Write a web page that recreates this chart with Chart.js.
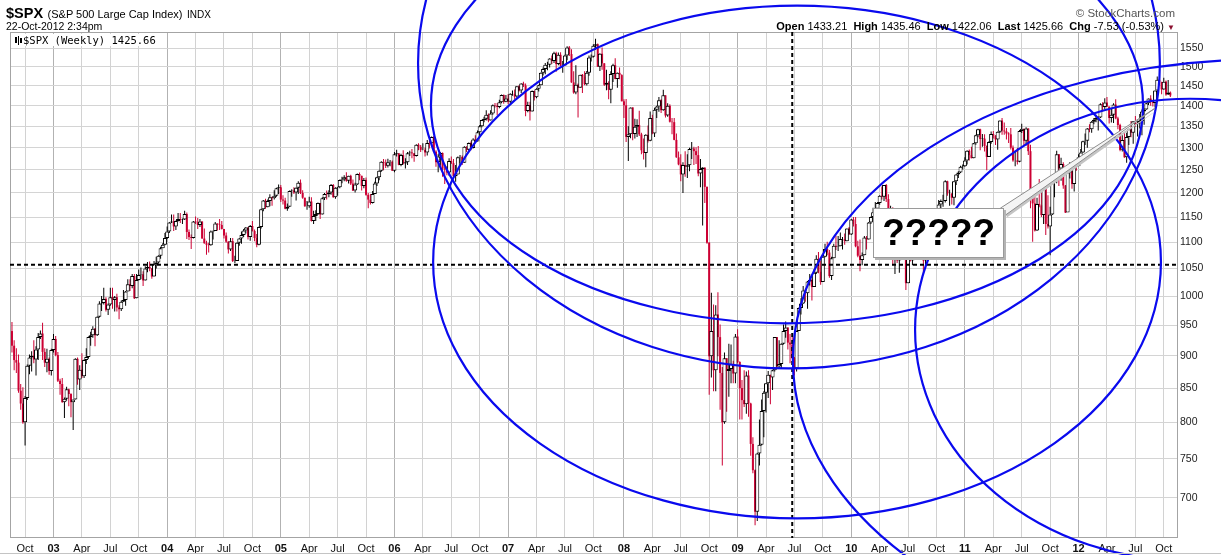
<!DOCTYPE html>
<html>
<head>
<meta charset="utf-8">
<title>$SPX semanal con elipses</title>
<script src="https://cdn.jsdelivr.net/npm/chart.js@4.4.1/dist/chart.umd.min.js"></script>
<style>
body { margin: 0; padding: 0; background: #fff; overflow: hidden; }
#wrap { position: relative; width: 1221px; height: 555px; background: #fff; font-family: "Liberation Sans", Arial, sans-serif; color: #000; }
#c { position: absolute; left: 0; top: 0; }
.txt { position: absolute; white-space: nowrap; }
#legend { left: 11px; top: 34px; width: 154px; height: 12px; background: #fff; font-family: "DejaVu Sans Mono", monospace; font-size: 10.5px; line-height: 12px; }
#legend svg { vertical-align: -1px; margin: 0 1px 0 4px; }
#callout { position: absolute; box-sizing: border-box; background: #fff; border: 1px solid #9a9a9a; box-shadow: 2px 2px 0 #b4b4b4; font-weight: bold; font-size: 37px; text-align: center; }
#bottomline { position: absolute; left: 0; top: 553px; width: 1221px; height: 1px; background: #c4c4c4; }
</style>
</head>
<body>
<div id="wrap">
    <canvas id="c" width="1221" height="555"></canvas>
    <div class="txt" style="left:6px;top:5px;line-height:16px"><b style="font-size:14.5px">$SPX</b> <span style="font-size:11px">(S&amp;P 500 Large Cap Index)</span> <span style="font-size:10px">INDX</span></div>
    <div class="txt" style="left:6px;top:20px;font-size:10.5px;line-height:12px">22-Oct-2012 2:34pm</div>
    <div class="txt" id="legend"><svg width="7" height="9"><rect x="0" y="1" width="2" height="6" fill="#000"/><rect x="3" y="0" width="1" height="9" fill="#000"/><rect x="5" y="2" width="2" height="5" fill="#000"/></svg>$SPX (Weekly) 1425.66</div>
    <div class="txt" style="right:46px;top:7px;font-size:11.5px;line-height:12px;color:#555">© StockCharts.com</div>
    <div class="txt" style="right:46px;top:20px;font-size:11px;line-height:12px"><b>Open</b> 1433.21&nbsp;&nbsp;<b>High</b> 1435.46&nbsp;&nbsp;<b>Low</b> 1422.06&nbsp;&nbsp;<b>Last</b> 1425.66&nbsp;&nbsp;<b>Chg</b> -7.53 (-0.53%) <span style="color:#8b1030;font-size:8px">▼</span></div>
    <div id="callout"></div>
    <div id="bottomline"></div>
</div>
<script>
// Barras semanales: la barra 0 es la semana que empieza el lunes 26-ago-2002, la ultima la del 22-oct-2012
const prevClose0 = 940; // cierre de la semana anterior a la primera barra

const closes = [
    916,893,889,846,827,800,835,884,897,900,894,910,930,936,906,889,895,876,909,
    // 2003
    927,901,861,856,829,834,848,841,829,833,895,863,878,868,893,898,930,933,944,933,964,987,988,995,976,985,998,993,998,980,977,990,993,1008,1021,1018,1036,996,1029,1038,1039,1028,1050,1053,1050,1035,1058,1061,1074,1088,1095,1108,
    // 2004
    1121,1139,1141,1131,1142,1146,1144,1145,1156,1120,1110,1108,1141,1139,1134,1141,1107,1098,1095,1094,1121,1122,1137,1135,1134,1126,1113,1101,1086,1102,1064,1064,1099,1107,1114,1123,1129,1110,1132,1122,1108,1095,1130,1166,1184,1170,1183,1191,1189,1194,1210,1212,
    // 2005
    1186,1184,1167,1171,1204,1205,1201,1211,1222,1200,1190,1172,1172,1182,1142,1152,1156,1179,1155,1189,1198,1197,1201,1217,1191,1211,1212,1228,1229,1234,1226,1237,1220,1205,1218,1241,1237,1215,1228,1196,1186,1179,1198,1220,1234,1248,1268,1265,1259,1267,1268,1248,
    // 2006
    1285,1287,1261,1283,1264,1267,1287,1289,1287,1281,1307,1302,1295,1295,1289,1311,1310,1325,1291,1267,1280,1288,1253,1251,1244,1270,1265,1236,1240,1278,1279,1266,1302,1295,1311,1299,1319,1314,1336,1350,1365,1368,1378,1364,1381,1401,1400,1397,1409,1427,1410,1418,
    // 2007
    1410,1430,1430,1423,1449,1438,1456,1451,1387,1402,1386,1437,1421,1443,1452,1484,1494,1505,1505,1522,1515,1536,1507,1532,1503,1503,1530,1552,1534,1459,1433,1453,1445,1479,1474,1454,1484,1525,1527,1557,1561,1500,1535,1509,1453,1458,1440,1481,1504,1468,1484,1478,
    // 2008
    1411,1401,1325,1331,1396,1332,1349,1353,1331,1294,1288,1330,1316,1370,1333,1390,1398,1414,1389,1426,1376,1400,1361,1360,1318,1278,1262,1240,1261,1257,1260,1297,1298,1292,1283,1242,1252,1255,1213,1099,899,940,877,968,930,873,800,896,876,879,887,872,931,
    // 2009
    890,850,832,826,869,827,770,735,683,757,769,816,843,857,870,866,877,930,883,887,919,940,946,921,918,896,880,940,979,987,1010,1005,1026,1029,1016,1042,1068,1044,1025,1072,1087,1080,1036,1069,1093,1091,1092,1106,1106,1102,1127,1115,
    // 2010
    1145,1136,1092,1074,1066,1075,1109,1105,1139,1150,1160,1167,1179,1194,1192,1217,1187,1111,1136,1088,1089,1065,1092,1117,1076,1023,1078,1065,1103,1102,1121,1079,1072,1065,1105,1110,1125,1149,1146,1166,1176,1183,1183,1225,1199,1199,1190,1225,1240,1244,1257,1258,
    // 2011
    1271,1293,1283,1276,1310,1329,1343,1320,1321,1304,1279,1313,1332,1328,1319,1337,1364,1340,1338,1333,1331,1300,1271,1271,1268,1339,1344,1316,1345,1292,1199,1178,1123,1177,1174,1154,1216,1136,1131,1155,1224,1238,1285,1253,1263,1216,1159,1244,1255,1219,1265,1258,
    // 2012
    1278,1289,1315,1316,1345,1343,1361,1366,1370,1371,1404,1397,1408,1398,1370,1378,1403,1369,1353,1295,1318,1278,1325,1343,1335,1362,1355,1357,1363,1386,1391,1406,1418,1411,1407,1438,1466,1460,1441,1461,1428,1433,1425.66
];

const highs = [
    955,925,912,902,856,851,838,886,902,907,925,915,937,941,954,912,911,897,911,
    935,932,906,864,865,836,852,849,842,833,896,897,885,904,894,912,931,939,948,945,965,991,1000,1015,998,987,1015,1015,1000,1004,984,992,1011,1009,1030,1030,1040,1040,1040,1048,1052,1045,1054,1062,1063,1051,1064,1072,1075,1091,1098,1118,
    1131,1140,1155,1155,1143,1158,1158,1147,1163,1159,1125,1115,1142,1151,1148,1146,1141,1127,1103,1099,1123,1123,1140,1137,1146,1142,1126,1119,1102,1108,1108,1074,1100,1108,1121,1126,1130,1129,1134,1142,1125,1116,1131,1167,1185,1188,1186,1197,1192,1206,1211,1218,
    1217,1195,1190,1178,1205,1208,1212,1212,1225,1229,1206,1190,1183,1192,1191,1163,1164,1180,1179,1191,1200,1205,1206,1219,1219,1212,1213,1229,1235,1238,1245,1237,1239,1229,1222,1242,1244,1237,1232,1233,1200,1198,1204,1224,1235,1249,1269,1274,1273,1275,1272,1271,
    1290,1295,1287,1286,1294,1276,1290,1293,1297,1288,1308,1310,1306,1310,1300,1318,1316,1326,1327,1294,1285,1290,1289,1257,1258,1276,1280,1274,1261,1280,1283,1282,1303,1303,1312,1314,1322,1329,1340,1353,1366,1373,1389,1381,1389,1403,1407,1407,1415,1428,1428,1427,
    1429,1431,1438,1441,1449,1452,1457,1461,1456,1410,1410,1438,1438,1444,1453,1485,1498,1510,1513,1523,1530,1540,1540,1538,1539,1515,1532,1555,1556,1547,1488,1504,1456,1479,1481,1488,1489,1530,1533,1561,1576,1563,1536,1552,1510,1492,1462,1488,1508,1523,1485,1498,
    1480,1416,1417,1350,1396,1396,1368,1367,1388,1335,1321,1331,1352,1386,1378,1395,1400,1422,1416,1440,1426,1406,1404,1370,1370,1333,1291,1285,1267,1292,1285,1300,1313,1302,1301,1304,1274,1256,1255,1214,1100,1006,985,984,1007,951,882,905,896,919,918,892,935,
    943,891,862,877,875,877,828,779,736,758,804,833,845,857,876,870,878,930,930,925,920,951,956,946,935,931,898,941,980,996,1018,1013,1027,1040,1031,1049,1075,1081,1065,1076,1097,1101,1085,1072,1097,1113,1112,1119,1110,1117,1127,1130,
    1146,1150,1150,1103,1105,1080,1112,1112,1140,1151,1169,1181,1181,1195,1214,1217,1219,1197,1173,1170,1105,1105,1093,1120,1131,1082,1078,1100,1104,1120,1130,1129,1100,1081,1106,1114,1131,1149,1162,1168,1185,1186,1196,1227,1226,1207,1199,1225,1241,1247,1259,1262,
    1278,1294,1296,1302,1311,1330,1344,1344,1332,1331,1305,1315,1338,1339,1329,1338,1364,1370,1359,1346,1336,1346,1305,1293,1299,1341,1356,1344,1348,1345,1307,1199,1208,1190,1230,1204,1220,1220,1195,1171,1225,1239,1293,1285,1277,1267,1217,1260,1267,1255,1268,1269,
    1285,1297,1316,1333,1346,1355,1363,1370,1378,1374,1406,1409,1419,1422,1398,1392,1406,1416,1373,1356,1329,1334,1335,1344,1363,1363,1375,1366,1380,1391,1394,1407,1418,1426,1414,1438,1474,1467,1461,1471,1464,1465,1435.46
];

const lows = [
    905,877,873,843,818,798,768,832,871,875,888,869,893,927,893,882,874,870,869,
    905,899,859,840,828,806,831,823,807,789,833,855,847,865,865,887,895,916,929,915,932,963,974,985,973,967,983,978,973,973,960,974,990,983,1008,1009,1014,995,996,1028,1030,1018,1028,1043,1045,1031,1035,1050,1059,1068,1088,1094,
    1106,1118,1138,1122,1124,1141,1138,1136,1144,1106,1104,1087,1107,1136,1126,1130,1107,1097,1076,1080,1093,1105,1122,1123,1124,1125,1107,1099,1078,1083,1062,1060,1064,1093,1097,1110,1117,1105,1103,1121,1102,1090,1094,1127,1162,1167,1170,1172,1173,1186,1192,1198,
    1181,1176,1166,1163,1171,1192,1198,1184,1198,1198,1188,1171,1165,1169,1141,1136,1142,1154,1146,1155,1185,1186,1191,1196,1190,1188,1194,1210,1221,1225,1224,1220,1217,1204,1201,1217,1227,1205,1210,1194,1168,1176,1178,1198,1215,1227,1246,1249,1254,1255,1258,1248,
    1245,1280,1260,1258,1262,1253,1261,1281,1276,1268,1280,1294,1290,1294,1280,1282,1298,1304,1290,1257,1245,1259,1235,1219,1238,1237,1263,1235,1224,1240,1265,1261,1266,1290,1293,1294,1298,1310,1314,1326,1348,1360,1364,1360,1364,1378,1396,1377,1394,1406,1405,1409,
    1404,1405,1425,1416,1420,1436,1432,1447,1374,1384,1364,1386,1413,1419,1436,1452,1477,1480,1491,1498,1507,1510,1487,1504,1502,1484,1503,1517,1529,1458,1430,1429,1371,1445,1432,1452,1451,1476,1514,1525,1546,1500,1489,1492,1450,1439,1416,1406,1460,1467,1445,1467,
    1411,1370,1313,1270,1322,1317,1321,1325,1327,1285,1273,1256,1312,1315,1331,1325,1370,1385,1382,1388,1371,1373,1359,1331,1317,1277,1260,1225,1200,1235,1232,1247,1274,1261,1263,1236,1212,1133,1179,1097,840,866,845,845,899,818,741,798,815,837,857,857,857,
    888,804,804,822,812,808,754,731,667,672,741,768,779,814,835,826,847,875,879,879,880,918,929,910,888,895,869,875,940,968,986,990,978,1019,992,1016,1040,1041,1020,1025,1071,1075,1033,1029,1069,1085,1083,1092,1086,1095,1102,1115,
    1114,1131,1090,1071,1045,1056,1075,1086,1105,1136,1141,1157,1165,1175,1186,1183,1181,1066,1110,1056,1040,1060,1042,1087,1071,1011,1023,1063,1056,1088,1101,1076,1069,1040,1050,1092,1107,1123,1135,1131,1158,1159,1171,1180,1194,1173,1176,1174,1217,1232,1243,1251,
    1257,1262,1271,1276,1276,1307,1324,1294,1302,1291,1249,1279,1309,1321,1306,1295,1334,1330,1330,1319,1311,1296,1268,1258,1262,1267,1334,1306,1305,1283,1168,1101,1121,1122,1170,1150,1136,1114,1127,1075,1154,1191,1221,1215,1226,1209,1158,1176,1231,1209,1203,1248,
    1258,1275,1288,1306,1300,1336,1335,1355,1360,1340,1370,1386,1391,1397,1357,1359,1358,1367,1343,1292,1291,1277,1266,1306,1324,1309,1349,1326,1345,1329,1354,1390,1402,1400,1398,1396,1428,1455,1429,1440,1425,1427,1422.06
];

// eje de precios (logaritmico) y marcas trimestrales del eje de tiempo
const yTicks = [700, 750, 800, 850, 900, 950, 1000, 1050, 1100, 1150, 1200, 1250, 1300, 1350, 1400, 1450, 1500, 1550];
const qtrTickIdx = [6, 19, 32, 45, 58, 71, 84, 97, 110, 123, 136, 149, 162, 175, 188, 201, 214, 227, 240, 253, 266,
    280, 293, 306, 319, 332, 345, 358, 371, 384, 397, 410, 423, 436, 449, 462, 475, 488, 501, 514, 527];
const qtrTickLabels = ['Oct', '03', 'Apr', 'Jul', 'Oct', '04', 'Apr', 'Jul', 'Oct', '05', 'Apr', 'Jul', 'Oct', '06', 'Apr', 'Jul',
    'Oct', '07', 'Apr', 'Jul', 'Oct', '08', 'Apr', 'Jul', 'Oct', '09', 'Apr', 'Jul', 'Oct', '10', 'Apr', 'Jul', 'Oct', '11',
    'Apr', 'Jul', 'Oct', '12', 'Apr', 'Jul', 'Oct'];

// anotaciones dibujadas a mano (en semanas y precio)
const crossWeek = 357;
const crossPrice = 1057;
const ellipses = [
    { week: 359.2, price: 1062, halfWeeks: 166.5, lowPrice: 675 },
    { week: 355.5, price: 1509, halfWeeks: 169.7, lowPrice: 880 },
    { week: 354.6, price: 1401, halfWeeks: 162.9, lowPrice: 953 },
    { week: 571.0, price: 893, halfWeeks: 213.7, lowPrice: 525 },
    { week: 539.0, price: 942, halfWeeks: 125.8, lowPrice: 626 }
];
const callout = { fromWeek: 394, toWeek: 454, top: 1168, bottom: 1069, tipWeek: 523, tipPrice: 1394, text: '?????' };

const UP = '#000000';
const DOWN = '#cc0033';

// apertura semanal = cierre de la semana anterior
const opens = closes.map((c, i) => i === 0 ? prevClose0 : closes[i - 1]);
const isUp = closes.map((c, i) => c >= opens[i]);
const colors = isUp.map(u => u ? UP : DOWN);

const wicks = closes.map((c, i) => ({ x: i, y: [lows[i], highs[i]] }));
const upBodies = [];
const downBodies = [];
closes.forEach((c, i) => (isUp[i] ? upBodies : downBodies).push({ x: i, y: [opens[i], c] }));

Chart.defaults.font.family = '"Liberation Sans", Arial, sans-serif';

const overlay = {
    id: 'overlay',
    afterDraw(chart) {
        const ctx = chart.ctx;
        const a = chart.chartArea;
        const x = chart.scales.x;
        const y = chart.scales.y;
        ctx.save();

        // marco del grafico
        ctx.strokeStyle = '#a4a4a4';
        ctx.lineWidth = 1;
        ctx.strokeRect(a.left + 0.5, a.top + 0.5, a.right - a.left - 1, a.bottom - a.top - 1);

        // cruz punteada
        const cx = x.getPixelForValue(crossWeek);
        const cy = y.getPixelForValue(crossPrice);
        ctx.setLineDash([4, 3]);
        ctx.strokeStyle = '#000';
        ctx.lineWidth = 2;
        ctx.beginPath();
        ctx.moveTo(cx, a.top);
        ctx.lineTo(cx, a.bottom);
        ctx.moveTo(a.left, cy);
        ctx.lineTo(a.right, cy);
        ctx.stroke();
        ctx.setLineDash([]);

        // elipses
        ctx.strokeStyle = '#0a0aee';
        ctx.lineWidth = 2.2;
        ellipses.forEach(e => {
            const ex = x.getPixelForValue(e.week);
            const ey = y.getPixelForValue(e.price);
            const rx = x.getPixelForValue(e.week + e.halfWeeks) - ex;
            const ry = y.getPixelForValue(e.lowPrice) - ey;
            ctx.beginPath();
            ctx.ellipse(ex, ey, rx, ry, 0, 0, Math.PI * 2);
            ctx.stroke();
        });

        // flecha del globo
        const bx = x.getPixelForValue(callout.toWeek);
        const by = y.getPixelForValue(callout.top);
        const tx = x.getPixelForValue(callout.tipWeek);
        const ty = y.getPixelForValue(callout.tipPrice);
        ctx.fillStyle = '#c4c4c4';
        ctx.beginPath();
        ctx.moveTo(bx - 2, by + 2);
        ctx.lineTo(tx + 2, ty + 2);
        ctx.lineTo(bx + 3, by + 9);
        ctx.closePath();
        ctx.fill();
        ctx.fillStyle = '#f4f4f4';
        ctx.strokeStyle = '#8c8c8c';
        ctx.lineWidth = 1;
        ctx.beginPath();
        ctx.moveTo(bx - 4, by);
        ctx.lineTo(tx, ty);
        ctx.lineTo(bx + 1, by + 7);
        ctx.closePath();
        ctx.fill();
        ctx.stroke();

        ctx.restore();
    }
};

const chart = new Chart(document.getElementById('c'), {
    type: 'bar',
    data: {
        datasets: [
            {
                label: 'cuerpo alcista',
                data: upBodies,
                backgroundColor: '#ffffff',
                borderColor: UP,
                borderWidth: 1,
                borderSkipped: false,
                barThickness: 4,
                inflateAmount: 0,
                grouped: false,
                order: 0
            },
            {
                label: 'cuerpo bajista',
                data: downBodies,
                backgroundColor: DOWN,
                borderWidth: 0,
                barThickness: 2,
                inflateAmount: 0,
                grouped: false,
                order: 0
            },
            {
                label: 'mecha',
                data: wicks,
                backgroundColor: colors,
                borderWidth: 0,
                barThickness: 1,
                inflateAmount: 0,
                grouped: false,
                order: 1
            }
        ]
    },
    options: {
        responsive: false,
        animation: false,
        devicePixelRatio: 1,
        layout: { padding: { top: 32, left: 10, right: 0, bottom: 0 } },
        plugins: { legend: { display: false }, tooltip: { enabled: false } },
        scales: {
            x: {
                type: 'linear',
                min: -0.9,
                max: 533.5,
                offset: false,
                afterBuildTicks: s => {
                    s.ticks = qtrTickIdx.map((v, i) => ({ value: v, major: !isNaN(Number(qtrTickLabels[i])) }));
                },
                afterFit: s => { s.height = 17; },
                grid: {
                    offset: false,
                    drawTicks: false,
                    color: c => (c.tick && c.tick.major) ? '#b2b2b2' : '#d2d2d2'
                },
                border: { display: false },
                ticks: {
                    autoSkip: false,
                    maxRotation: 0,
                    padding: 4,
                    color: '#111',
                    font: c => ({ size: 11, weight: (c.tick && c.tick.major) ? 'bold' : 'normal' }),
                    callback: (v, i) => qtrTickLabels[i]
                }
            },
            y: {
                type: 'logarithmic',
                position: 'right',
                min: 652,
                max: 1595,
                afterBuildTicks: s => { s.ticks = yTicks.map(v => ({ value: v })); },
                afterFit: s => { s.width = 43; },
                grid: { drawTicks: false, color: '#d4d4d4' },
                border: { display: false },
                ticks: {
                    padding: 2,
                    color: '#222',
                    font: { size: 10.5 },
                    callback: v => String(v)
                }
            }
        }
    },
    plugins: [overlay]
});

// globo con texto, colocado con las escalas del grafico
const calloutBox = document.getElementById('callout');
const boxLeft = chart.scales.x.getPixelForValue(callout.fromWeek);
const boxRight = chart.scales.x.getPixelForValue(callout.toWeek);
const boxTop = chart.scales.y.getPixelForValue(callout.top);
const boxBottom = chart.scales.y.getPixelForValue(callout.bottom);
calloutBox.style.left = boxLeft + 'px';
calloutBox.style.top = boxTop + 'px';
calloutBox.style.width = (boxRight - boxLeft) + 'px';
calloutBox.style.height = (boxBottom - boxTop) + 'px';
calloutBox.style.lineHeight = (boxBottom - boxTop - 2) + 'px';
calloutBox.textContent = callout.text;
</script>
</body>
</html>
